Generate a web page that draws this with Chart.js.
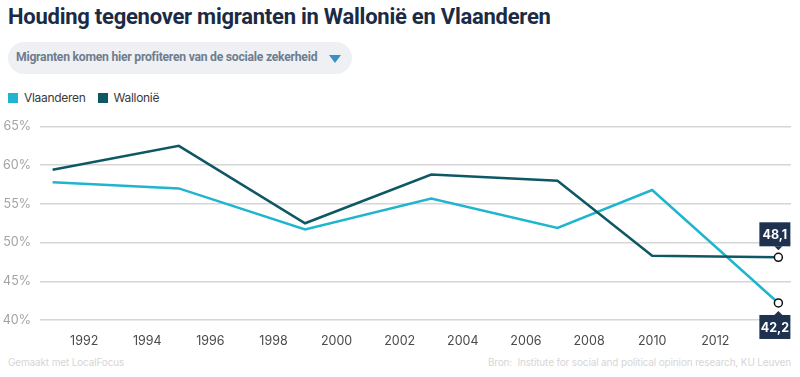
<!DOCTYPE html>
<html>
<head>
<meta charset="utf-8">
<script src="https://cdn.jsdelivr.net/npm/chart.js@4/dist/chart.umd.min.js"></script>
<style>
  html, body { margin: 0; padding: 0; background: #fff; }
  body { width: 800px; height: 377px; position: relative; overflow: hidden; font-family: Inter, "Noto Sans", sans-serif; }
  .title { position: absolute; left: 8px; top: 4px; font-family: Roboto, sans-serif; font-size: 22px; font-weight: 700; color: #1b2b45; letter-spacing: -0.25px; white-space: nowrap; }
  .pill { position: absolute; left: 8px; top: 42px; width: 344px; height: 32px; border-radius: 16px; background: #eef0f3; }
  .pill span { position: absolute; left: 8px; top: 8px; font-family: Roboto, sans-serif; font-size: 12.2px; font-weight: 700; color: #6e7d8f; letter-spacing: -0.25px; white-space: nowrap; }
  .pill i { position: absolute; left: 321px; top: 13px; width: 0; height: 0; border-left: 6px solid transparent; border-right: 6px solid transparent; border-top: 8px solid #3a8fc4; }
  .legend { position: absolute; left: 8px; top: 90px; font-size: 12px; color: #3a3a3a; white-space: nowrap; letter-spacing: -0.3px; }
  .legend .sw { display: inline-block; width: 10px; height: 10px; vertical-align: -1px; margin-right: 6px; }
  .legend .item { margin-right: 9px; }
  .foot { position: absolute; top: 356px; font-size: 10px; color: #d6d6d6; white-space: nowrap; letter-spacing: -0.15px; }
  #wrap { position: absolute; left: 0; top: 110px; width: 800px; height: 240px; }
</style>
</head>
<body>
<div class="title">Houding tegenover migranten in Wallonië en Vlaanderen</div>
<div class="pill"><span>Migranten komen hier profiteren van de sociale zekerheid</span><i></i></div>
<div class="legend">
  <span class="item"><span class="sw" style="background:#1fb5cf"></span>Vlaanderen</span>
  <span class="item"><span class="sw" style="background:#0e5866"></span>Wallonië</span>
</div>
<div id="wrap"><canvas id="chart"></canvas></div>
<div class="foot" style="left:8px">Gemaakt met LocalFocus</div>
<div class="foot" style="right:9px">Bron:&nbsp; Institute for social and political opinion research, KU Leuven</div>
<script>
const years = [1991, 1995, 1999, 2003, 2007, 2010, 2014];
const vlaanderen = [57.8, 57.0, 51.7, 55.7, 51.9, 56.8, 42.2];
const wallonie = [59.4, 62.5, 52.5, 58.8, 58.0, 48.3, 48.1];
const xTicks = [1992, 1994, 1996, 1998, 2000, 2002, 2004, 2006, 2008, 2010, 2012];
const yTicks = [40, 45, 50, 55, 60, 65];

const lastIdx = years.length - 1;
const pointR = ctx => ctx.dataIndex === lastIdx ? 4 : 0;

// value boxes on the last points
const endLabels = {
  id: 'endLabels',
  afterDatasetsDraw(chart) {
    const ctx = chart.ctx;
    chart.data.datasets.forEach((ds, i) => {
      const pt = chart.getDatasetMeta(i).data[lastIdx];
      const text = ds.data[lastIdx].y.toFixed(1).replace('.', ',');
      const above = ds.labelPos === 'above';
      const w = 31, h = 24;
      const x0 = pt.x - 19;
      const y0 = above ? pt.y - 35 : pt.y + 12;
      ctx.save();
      ctx.fillStyle = '#1e3250';
      ctx.fillRect(x0, y0, w, h);
      ctx.beginPath();
      if (above) {
        ctx.moveTo(pt.x - 4, y0 + h); ctx.lineTo(pt.x + 4, y0 + h); ctx.lineTo(pt.x, y0 + h + 4);
      } else {
        ctx.moveTo(pt.x - 4, y0); ctx.lineTo(pt.x + 4, y0); ctx.lineTo(pt.x, y0 - 4);
      }
      ctx.fill();
      ctx.fillStyle = '#fff';
      ctx.font = '700 12.5px Inter, sans-serif';
      ctx.textAlign = 'center';
      ctx.textBaseline = 'middle';
      ctx.fillText(text, x0 + w / 2, y0 + h / 2 + 1);
      ctx.restore();
    });
  }
};

new Chart(document.getElementById('chart'), {
  type: 'line',
  data: {
    datasets: [
      {
        label: 'Wallonië',
        data: years.map((y, i) => ({ x: y, y: wallonie[i] })),
        borderColor: '#0e5866',
        borderWidth: 2.5,
        pointRadius: pointR,
        pointBackgroundColor: '#fff',
        pointBorderColor: '#111',
        pointBorderWidth: 1.5,
        labelPos: 'above'
      },
      {
        label: 'Vlaanderen',
        data: years.map((y, i) => ({ x: y, y: vlaanderen[i] })),
        borderColor: '#1fb5cf',
        borderWidth: 2.5,
        pointRadius: pointR,
        pointBackgroundColor: '#fff',
        pointBorderColor: '#111',
        pointBorderWidth: 1.5,
        labelPos: 'below'
      }
    ]
  },
  options: {
    responsive: true,
    maintainAspectRatio: false,
    animation: false,
    layout: { padding: { top: 16, right: 9, left: 0, bottom: 0 } },
    plugins: { legend: { display: false }, tooltip: { enabled: false } },
    scales: {
      x: {
        type: 'linear',
        min: 1990.6,
        max: 2014.4,
        afterBuildTicks: s => { s.ticks = xTicks.map(v => ({ value: v })); },
        afterFit: s => { s.height = 30; },
        grid: { display: false },
        border: { display: false },
        ticks: {
          color: '#4a4a4a',
          padding: 6,
          maxRotation: 0,
          font: { family: 'Inter, sans-serif', size: 12.5 },
          callback: v => String(v)
        }
      },
      y: {
        min: 40,
        max: 65,
        afterBuildTicks: s => { s.ticks = yTicks.map(v => ({ value: v })); },
        afterFit: s => { s.width = 40; },
        grid: { color: '#d6d6d6', lineWidth: 1.5, drawTicks: false },
        border: { display: false },
        ticks: {
          color: '#a3a3a3',
          padding: 9,
          font: { family: 'Inter, sans-serif', size: 12.5 },
          callback: v => v + '%'
        }
      }
    }
  },
  plugins: [endLabels]
});
</script>
</body>
</html>
